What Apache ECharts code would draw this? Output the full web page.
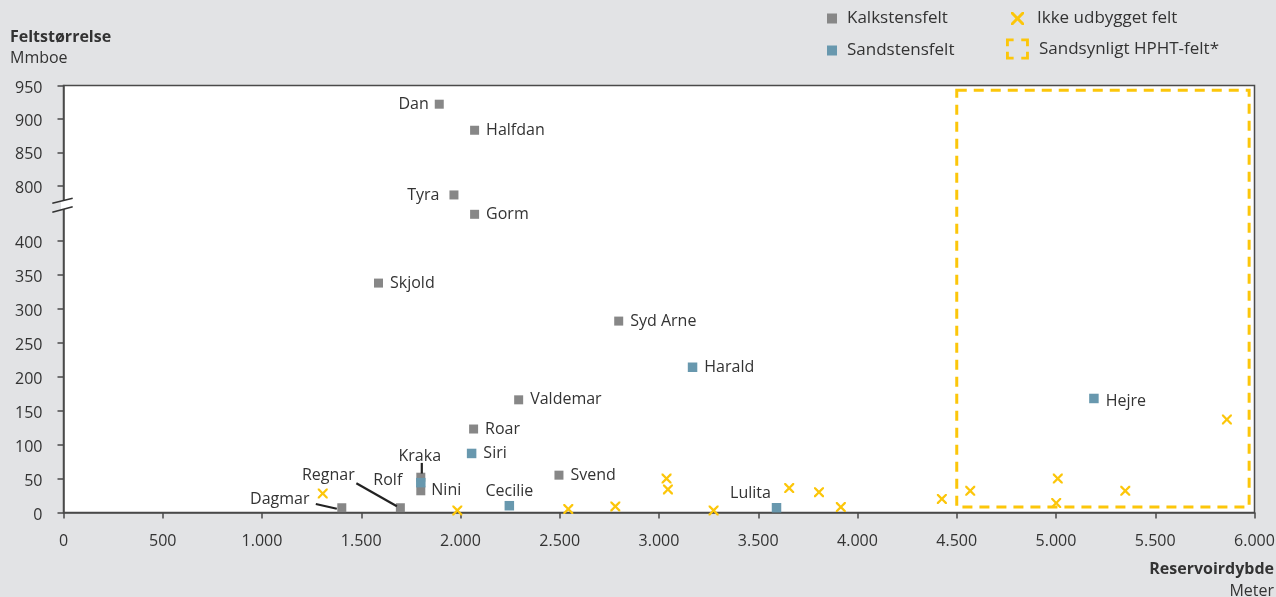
<!DOCTYPE html>
<html>
<head>
<meta charset="utf-8">
<script src="https://cdn.jsdelivr.net/npm/echarts@6/dist/echarts.min.js"></script>
<style>
html,body{margin:0;padding:0;background:#e2e3e5;}
#c{width:1276px;height:597px;}
</style>
</head>
<body>
<div id="c"></div>
<script>
// ---------- DATA ----------
const kalkNames = ['Dan','Halfdan','Tyra','Gorm','Skjold','Syd Arne','Valdemar','Roar','Svend','Kraka','Nini','Dagmar','Regnar'];
const kalkDepth = [1893, 2071, 1967, 2071, 1587, 2797, 2293, 2066, 2496, 1800, 1800, 1402, 1697];
const kalkSize  = [922, 883, 733, 593, 338, 282, 166, 123, 55, 52, 32, 7, 7];

const sandNames = ['Siri','Harald','Hejre','Cecilie','Lulita','Rolf'];
const sandDepth = [2056, 3169, 5191, 2246, 3592, 1800];
const sandSize  = [87, 214, 168, 10, 7, 44];

const ikkeDepth = [1306, 1984, 2543, 2780, 3038, 3045, 3275, 3656, 3806, 3916, 4425, 4568, 5009, 5001, 5349, 5861];
const ikkeSize  = [28, 3, 5, 9, 50, 34, 3, 36, 30, 8, 20, 32, 50, 14, 32, 137];

const hphtDepth = [4500, 5973];
const hphtSize  = [8, 943];

const yTickValues = [0, 50, 100, 150, 200, 250, 300, 350, 400, 800, 850, 900, 950];
const xMin = 0, xMax = 6000, xInterval = 500;

const seriesNames = ['Kalkstensfelt', 'Sandstensfelt', 'Ikke udbygget felt', 'Sandsynligt HPHT-felt*'];

// ---------- BROKEN AXIS MAPPING ----------
const BREAK_LO = 400, BREAK_HI = 800;
const BREAK_SPAN = 81.5;      // mapped units used by the 400..800 gap
const TOP_F = 0.984;          // scale above the break
function mapY(v) {
  if (v <= BREAK_LO) return v;
  if (v <= BREAK_HI) return BREAK_LO + (v - BREAK_LO) * BREAK_SPAN / (BREAK_HI - BREAK_LO);
  return BREAK_LO + BREAK_SPAN + (v - BREAK_HI) * TOP_F;
}
function unmapY(m) {
  if (m <= BREAK_LO + 1e-6) return m;
  if (m <= BREAK_LO + BREAK_SPAN + 1e-6) return BREAK_LO + (m - BREAK_LO) * (BREAK_HI - BREAK_LO) / BREAK_SPAN;
  return BREAK_HI + (m - BREAK_LO - BREAK_SPAN) / TOP_F;
}
const yMaxMapped = mapY(950);

// ---------- STYLE ----------
const FONT = 'Open Sans';
const TXT = '#333333';
const AXIS = '#4a4a4a';
const GRAY = '#878787';
const BLUE = '#6898ae';
const YEL = '#fcc60a';
const X_PATH = 'path://M0,0L1.6,0L5,3.4L8.4,0L10,0L10,1.6L6.6,5L10,8.4L10,10L8.4,10L5,6.6L1.6,10L0,10L0,8.4L3.4,5L0,1.6Z';
const BRACKET_PATH = 'path://M0,0H8V3H3V8H0Z M16,0H24V8H21V3H16Z M0,14H3V19H8V22H0Z M21,14H24V22H16V19H21Z';

// label placement per point name (layout only)
const labelPlace = {
  'Dan': {position: 'left', distance: 6},
  'Tyra': {position: 'left', distance: 10},
  'Hejre': {position: 'right', distance: 7, offset: [0, 3]},
  'Cecilie': {position: 'inside', offset: [0, -14]},
  'Lulita': {position: 'inside', offset: [-26, -14]},
  'Kraka': {position: 'inside', offset: [-1, -21]},
  'Regnar': {position: 'inside', offset: [-72, -32]},
  'Dagmar': {position: 'inside', offset: [-62, -8]},
  'Rolf': {position: 'inside', offset: [-33, -2]},
  'Nini': {position: 'right', distance: 6}
};
// leader lines: pixel offsets from the point they belong to
const leaderNames = ['Regnar', 'Dagmar', 'Kraka'];
const leaderOffsets = {
  'Regnar': [[-44, -24.5], [-3.5, -1.5]],
  'Dagmar': [[-26, -3.7], [-5, 1]],
  'Kraka':  [[1, -14.3], [1, -3.7]]
};

function pointItems(names, depth, size) {
  return names.map((n, i) => {
    const item = {name: n, value: [depth[i], mapY(size[i])]};
    if (labelPlace[n]) item.label = Object.assign({color: TXT}, labelPlace[n]);
    return item;
  });
}
function findPoint(name) {
  let i = kalkNames.indexOf(name);
  if (i >= 0) return [kalkDepth[i], mapY(kalkSize[i])];
  i = sandNames.indexOf(name);
  return [sandDepth[i], mapY(sandSize[i])];
}

const baseLabel = {
  show: true, formatter: '{b}', position: 'right', distance: 7,
  fontSize: 16, fontFamily: FONT, color: TXT, opacity: 1
};

const chart = echarts.init(document.getElementById('c'), null, {renderer: 'canvas'});
const legendText = {fontSize: 17, color: TXT, fontFamily: FONT};
const option = {
  backgroundColor: '#e2e3e5',
  animation: false,
  textStyle: {fontFamily: FONT},
  grid: {
    left: 63.5, right: 21.5, top: 85.5, bottom: 84.5,
    show: true, backgroundColor: '#ffffff', borderColor: AXIS, borderWidth: 1.5,
    containLabel: false, outerBoundsMode: 'none'
  },
  legend: [
    {
      orient: 'vertical', left: 827, top: 10, padding: 0, itemGap: 15,
      itemWidth: 10, itemHeight: 10, selectedMode: false,
      textStyle: Object.assign({padding: [0, 0, 0, 5]}, legendText),
      data: [{name: seriesNames[0], icon: 'rect'}, {name: seriesNames[1], icon: 'rect'}]
    },
    {
      orient: 'vertical', left: 1011, top: 10, padding: 0,
      itemWidth: 13, itemHeight: 13, selectedMode: false,
      textStyle: Object.assign({padding: [0, 0, 0, 8]}, legendText),
      data: [{name: seriesNames[2], icon: X_PATH}]
    },
    {
      orient: 'vertical', left: 1006, top: 38.5, padding: 0,
      itemWidth: 23, itemHeight: 21, selectedMode: false,
      textStyle: Object.assign({padding: [0, 0, 0, 5]}, legendText),
      data: [{name: seriesNames[3], icon: BRACKET_PATH, itemStyle: {color: YEL}}]
    }
  ],
  xAxis: {
    type: 'value', min: xMin, max: xMax, interval: xInterval,
    axisLine: {show: true, lineStyle: {color: AXIS, width: 1.5}},
    axisTick: {show: true, length: 6, lineStyle: {color: AXIS, width: 1.5}},
    splitLine: {show: false},
    axisLabel: {
      fontSize: 16, color: TXT, fontFamily: FONT, margin: 21,
      formatter: v => String(v).replace(/\B(?=(\d{3})+(?!\d))/g, '.')
    }
  },
  yAxis: {
    type: 'value', min: 0, max: yMaxMapped,
    axisLine: {show: true, lineStyle: {color: AXIS, width: 1.5}},
    axisTick: {show: true, length: 6, lineStyle: {color: AXIS, width: 1.5}, customValues: yTickValues.map(mapY)},
    splitLine: {show: false},
    axisLabel: {
      fontSize: 16, color: TXT, fontFamily: FONT, margin: 21,
      customValues: yTickValues.map(mapY),
      formatter: v => '{v|' + String(Math.round(unmapY(v) / 50) * 50) + '}',
      rich: {v: {fontSize: 16, color: TXT, fontFamily: FONT, padding: [5, 0, 0, 0]}}
    }
  },
  series: [
    {
      name: seriesNames[3], type: 'scatter', data: [], itemStyle: {color: YEL, opacity: 1},
      markArea: {
        silent: true,
        itemStyle: {color: 'rgba(0,0,0,0)', borderColor: YEL, borderWidth: 3, borderType: [10, 7], opacity: 1},
        data: [[{coord: [hphtDepth[0], mapY(hphtSize[1])]}, {coord: [hphtDepth[1], mapY(hphtSize[0])]}]]
      }
    },
    {
      name: seriesNames[2], type: 'scatter', symbol: X_PATH, symbolSize: 10,
      itemStyle: {color: YEL, opacity: 1}, clip: false, z: 3,
      data: ikkeDepth.map((d, i) => [d, mapY(ikkeSize[i])])
    },
    {
      name: seriesNames[0], type: 'scatter', symbol: 'rect', symbolSize: 9,
      itemStyle: {color: GRAY, opacity: 1}, clip: false, z: 4,
      label: baseLabel,
      data: pointItems(kalkNames, kalkDepth, kalkSize)
    },
    {
      name: seriesNames[1], type: 'scatter', symbol: 'rect', symbolSize: 9.5,
      itemStyle: {color: BLUE, opacity: 1}, clip: false, z: 4,
      label: baseLabel,
      data: pointItems(sandNames, sandDepth, sandSize)
    },
    {
      name: 'leaders', type: 'custom', clip: false, z: 5, silent: true,
      data: leaderNames.map(n => findPoint(n)),
      renderItem: (params, api) => {
        const p = api.coord([api.value(0), api.value(1)]);
        const o = leaderOffsets[leaderNames[params.dataIndex]];
        return {
          type: 'line',
          shape: {x1: p[0] + o[0][0], y1: p[1] + o[0][1], x2: p[0] + o[1][0], y2: p[1] + o[1][1]},
          style: {stroke: '#222222', lineWidth: 2.2}
        };
      }
    }
  ],
  graphic: [
    {type: 'text', left: 10, top: 29, z: 100,
     style: {text: 'Feltstørrelse', font: 'bold 16px "Open Sans"', fill: TXT}},
    {type: 'text', left: 10, top: 50.5, z: 100,
     style: {text: 'Mmboe', font: '16px "Open Sans"', fill: TXT}},
    {type: 'text', right: 2, top: 561, z: 100,
     style: {text: 'Reservoirdybde', font: 'bold 16px "Open Sans"', fill: TXT}},
    {type: 'text', right: 2, top: 583, z: 100,
     style: {text: 'Meter', font: '16px "Open Sans"', fill: TXT}},
    {type: 'polygon', z: 100, silent: true,
     shape: {points: [[61, 201.2], [66.5, 199.8], [66.5, 208.4], [61, 209.9]]},
     style: {fill: '#ffffff'}},
    {type: 'line', z: 101, silent: true,
     shape: {x1: 52.3, y1: 203.3, x2: 72.7, y2: 198.3}, style: {stroke: '#333', lineWidth: 1.5}},
    {type: 'line', z: 101, silent: true,
     shape: {x1: 52.3, y1: 212.3, x2: 72.7, y2: 206.7}, style: {stroke: '#333', lineWidth: 1.5}}
  ]
};
chart.setOption(option);
</script>
</body>
</html>
